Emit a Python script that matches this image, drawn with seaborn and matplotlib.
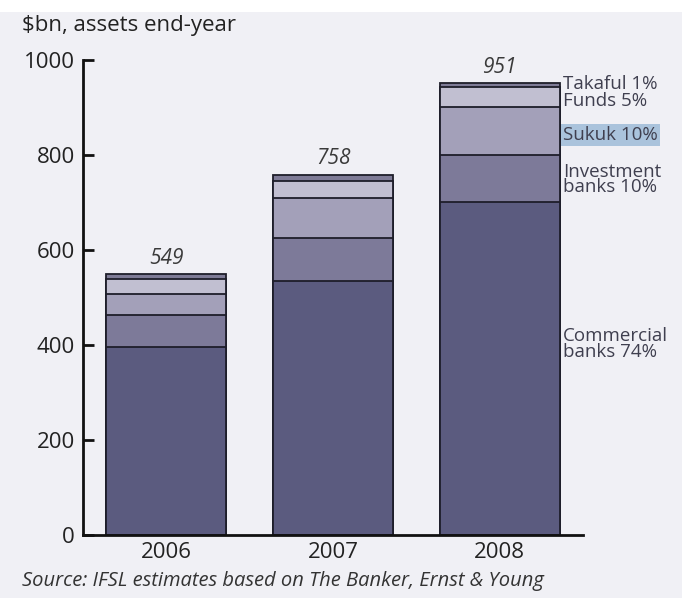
import numpy as np
import pandas as pd
import seaborn as sns
import matplotlib
matplotlib.use("Agg")
import matplotlib.pyplot as plt
from matplotlib.ticker import FixedLocator

years = ["2006", "2007", "2008"]
commercial = [396, 535, 702]
investment = [67, 90, 99]
sukuk = [44, 84, 100]
funds = [31, 37, 42]
takaful = [11, 12, 8]
totals = [549, 758, 951]
segment_names = ["Commercial banks", "Investment banks", "Sukuk", "Funds", "Takaful"]
segment_labels = ["Commercial\nbanks 74%", "Investment\nbanks 10%", "Sukuk 10%", "Funds 5%", "Takaful 1%"]
label_y = [402, 748, 842, 914, 950]
yticks = [0, 200, 400, 600, 800, 1000]

sns.set_style("white")
plt.rcParams["font.family"] = ["Open Sans", "DejaVu Sans"]

bg = "#f0f0f5"
colors = ["#5b5b7f", "#7d7a99", "#a3a0b9", "#c1bfd1", "#7e7b96"]

segs = [commercial, investment, sukuk, funds, takaful]
cum = np.cumsum(np.array(segs), axis=0)

fig = plt.figure(figsize=(6.82, 5.98), dpi=100, facecolor=bg)
ax = fig.add_axes([0.1217, 0.1054, 0.7331, 0.7943])
ax.set_facecolor(bg)

for i in range(len(segs) - 1, -1, -1):
    df = pd.DataFrame({"year": years, "value": cum[i]})
    sns.barplot(data=df, x="year", y="value", order=years, color=colors[i],
                saturation=1, width=0.72, edgecolor="#1e1e2a", linewidth=1.3,
                ax=ax, errorbar=None)

for k, t in enumerate(totals):
    ax.text(k, t + 12, str(t), ha="center", va="bottom", fontsize=15,
            style="italic", color="#3a3a3a")

ax.set_xlim(-0.5, 2.5)
ax.set_ylim(0, 1000)
ax.set_yticks(yticks)
ax.set_yticklabels([str(v) for v in yticks], fontsize=16, color="#222222")
ax.set_xticks([0, 1, 2])
ax.set_xticklabels(years, fontsize=16, color="#222222")
ax.xaxis.set_minor_locator(FixedLocator([0.5, 1.5, 2.5]))
ax.tick_params(axis="x", which="major", length=0, pad=5)
ax.tick_params(axis="x", which="minor", direction="in", length=7, width=1.8, color="#111111")
ax.tick_params(axis="y", direction="in", length=8, width=2, color="#111111", pad=6, left=True)
ax.set_xlabel("")
ax.set_ylabel("")
for s in ["top", "right"]:
    ax.spines[s].set_visible(False)
for s in ["left", "bottom"]:
    ax.spines[s].set_linewidth(2)
    ax.spines[s].set_color("#111111")

lx = 2.5 + (563 - 583) / 166.7
for lab, yv in zip(segment_labels, label_y):
    kw = {}
    if lab.startswith("Sukuk"):
        kw["bbox"] = dict(boxstyle="square,pad=0.12", facecolor="#aac3dc", edgecolor="none")
    ax.text(lx, yv, lab, ha="left", va="center", fontsize=13.5, color="#3f3f4f",
            linespacing=0.8, clip_on=False, **kw)

fig.text(0.032, 0.958, "\\$bn, assets end-year", fontsize=16, color="#222222",
         ha="left", va="center")
fig.text(0.032, 0.028, "Source: IFSL estimates based on The Banker, Ernst & Young",
         fontsize=14.5, style="italic", color="#333333", ha="left", va="center")

fig.patches.append(plt.Rectangle((0, 0.98), 1, 0.02, transform=fig.transFigure,
                                 facecolor="white", edgecolor="none", zorder=-1))

fig.savefig("out.png", dpi=100, facecolor=bg)
